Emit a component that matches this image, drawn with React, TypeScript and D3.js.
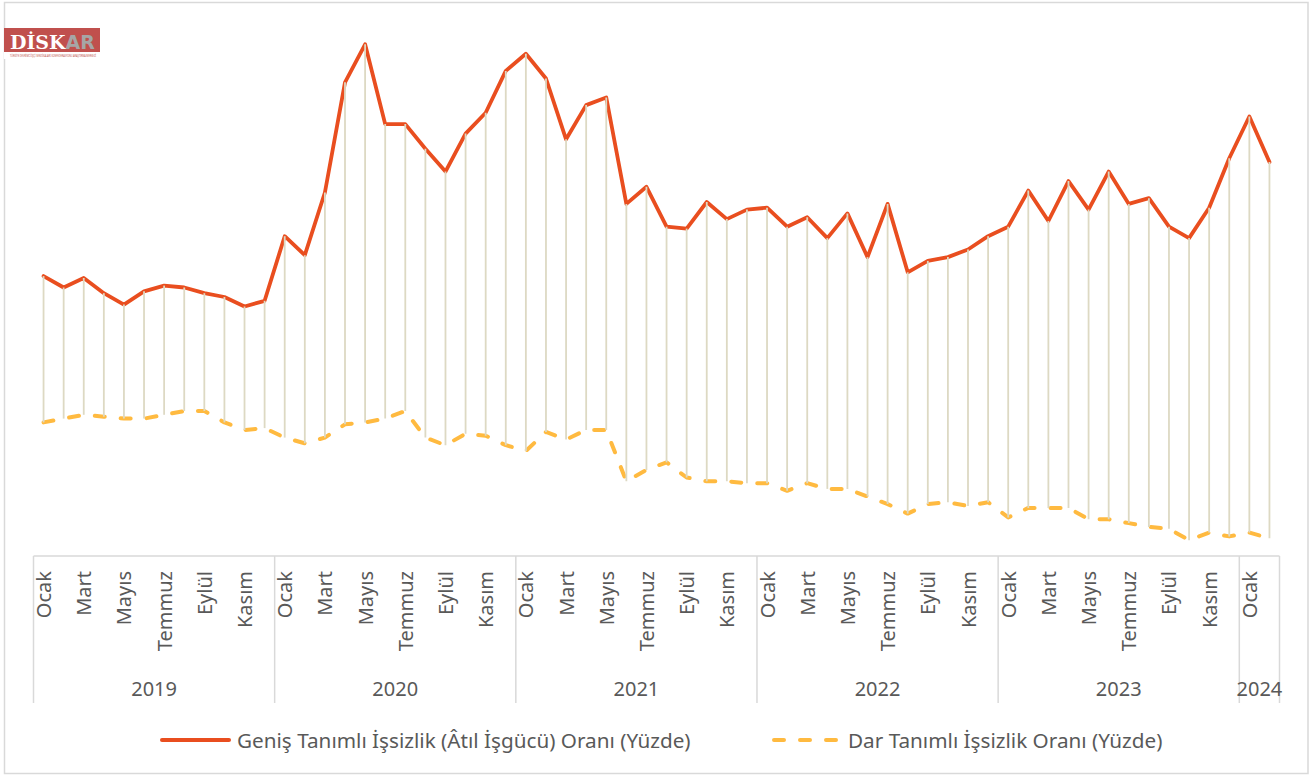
import React from "react";
import * as d3 from "d3";

const years = ["2019", "2020", "2021", "2022", "2023", "2024"];
const monthNames = ["Ocak", "Şubat", "Mart", "Nisan", "Mayıs", "Haziran", "Temmuz", "Ağustos", "Eylül", "Ekim", "Kasım", "Aralık"];
const monthsInYear = [12, 12, 12, 12, 12, 2];

// Geniş Tanımlı İşsizlik (Âtıl İşgücü) Oranı (Yüzde)
const wide = [
  22.5, 21.9, 22.4, 21.6, 21.0, 21.7, 22.0, 21.9, 21.6, 21.4, 20.9, 21.2,
  24.6, 23.6, 26.9, 32.7, 34.7, 30.5, 30.5, 29.2, 28.0, 30.0, 31.1, 33.3,
  34.2, 32.9, 29.7, 31.5, 31.9, 26.3, 27.2, 25.1, 25.0, 26.4, 25.5, 26.0,
  26.1, 25.1, 25.6, 24.5, 25.8, 23.5, 26.3, 22.7, 23.3, 23.5, 23.9, 24.6,
  25.1, 27.0, 25.4, 27.5, 26.0, 28.0, 26.3, 26.6, 25.1, 24.5, 26.1, 28.7,
  30.9, 28.5,
];

// Dar Tanımlı İşsizlik Oranı (Yüzde)
const narrow = [
  14.8, 15.0, 15.2, 15.1, 15.0, 15.0, 15.2, 15.4, 15.4, 14.8, 14.4, 14.5,
  14.0, 13.7, 14.0, 14.7, 14.8, 15.0, 15.4, 14.0, 13.6, 14.2, 14.1, 13.6,
  13.3, 14.3, 13.9, 14.4, 14.4, 11.7, 12.3, 12.7, 11.9, 11.7, 11.7, 11.6,
  11.6, 11.2, 11.6, 11.3, 11.3, 10.9, 10.5, 10.0, 10.5, 10.6, 10.4, 10.6,
  9.8, 10.3, 10.3, 10.3, 9.7, 9.7, 9.5, 9.3, 9.2, 8.6, 9.0, 8.8,
  9.0, 8.7,
];

const seriesNames = [
  "Geniş Tanımlı İşsizlik (Âtıl İşgücü) Oranı (Yüzde)",
  "Dar Tanımlı İşsizlik Oranı (Yüzde)",
];

const W = 1316;
const H = 775;
const FONT = "'Noto Sans', 'Open Sans', sans-serif";
const TXT = "#595959";
const GRID = "#D9D9D9";
const WIDE_C = "#E94E1F";
const NARROW_C = "#FFBA40";
const DROP_C = "#DDD9C3";

type Cat = { key: string; year: string; month: string; mi: number };

const categories: Cat[] = years.flatMap((y, yi) =>
  d3.range(monthsInYear[yi]).map((m) => ({ key: `${y}-${m}`, year: y, month: monthNames[m], mi: m }))
);

export default function App() {
  const x = d3.scaleBand<string>().domain(categories.map((c) => c.key)).range([33.5, 1279.5]).padding(0);
  const y = d3.scaleLinear().domain([5, 35]).range([608.6, 38.6]);
  const cx = (i: number) => (x(categories[i].key) as number) + x.bandwidth() / 2;

  const line = d3
    .line<number>()
    .x((_, i) => cx(i))
    .y((d) => y(d));

  const axisTop = 556;
  const axisBottom = 703;

  let acc = 0;
  const groups = years.map((yr, yi) => {
    const start = acc;
    acc += monthsInYear[yi];
    return { yr, start, end: acc };
  });
  const edge = (i: number) =>
    i < categories.length ? (x(categories[i].key) as number) : (x(categories[categories.length - 1].key) as number) + x.bandwidth();

  return (
    <svg
      width={W}
      height={H}
      style={{ position: "absolute", left: 0, top: 0, background: "#fff" }}
      fontFamily={FONT}
    >
      <rect x={0} y={0} width={W} height={H} fill="#fff" />
      <rect x={4.5} y={2.5} width={1303.5} height={771} fill="none" stroke={GRID} strokeWidth={1.5} />

      {/* logo */}
      <g>
        <rect x={4} y={28} width={96} height={31} fill="#fff" />
        <rect x={4} y={28} width={96} height={24} fill="#C0504D" />
        <text x={10} y={48.5} fontFamily="'DejaVu Serif', serif" fontWeight="bold" fontSize={19} fill="#fff">
          DİSK
          <tspan fill="#A6A6A6" fontFamily="'DejaVu Sans', sans-serif">AR</tspan>
        </text>
        <text x={10} y={57} fontSize={2.6} fill="#C0504D" textLength={86} lengthAdjust="spacingAndGlyphs" fontFamily={FONT}>
          TÜRKİYE DEVRİMCİ İŞÇİ SENDİKALARI KONFEDERASYONU ARAŞTIRMA MERKEZİ
        </text>
      </g>

      {/* series lines */}
      <path d={line(narrow) || ""} fill="none" stroke={NARROW_C} strokeWidth={4} strokeDasharray="10 16" strokeLinecap="round" strokeLinejoin="round" />
      <path d={line(wide) || ""} fill="none" stroke={WIDE_C} strokeWidth={3.8} strokeLinejoin="round" strokeLinecap="round" />

      {/* high-low lines */}
      {wide.map((w, i) => (
        <line key={`hl${i}`} x1={cx(i)} x2={cx(i)} y1={y(w)} y2={y(narrow[i])} stroke={DROP_C} strokeWidth={1.8} />
      ))}

      {/* category axis */}
      <line x1={edge(0)} x2={edge(categories.length)} y1={axisTop} y2={axisTop} stroke={GRID} strokeWidth={1.5} />
      {groups.map((g) => (
        <line key={`sep${g.yr}`} x1={edge(g.start)} x2={edge(g.start)} y1={axisTop} y2={axisBottom} stroke={GRID} strokeWidth={1.5} />
      ))}
      <line x1={edge(categories.length)} x2={edge(categories.length)} y1={axisTop} y2={axisBottom} stroke={GRID} strokeWidth={1.5} />

      {categories.map((c, i) =>
        i % 2 === 0 ? (
          <text
            key={`m${i}`}
            transform={`translate(${cx(i)},${571}) rotate(-90)`}
            textAnchor="end"
            dominantBaseline="central"
            fontSize={20}
            fill={TXT}
          >
            {c.month}
          </text>
        ) : null
      )}

      {groups.map((g) => (
        <text
          key={`y${g.yr}`}
          x={(edge(g.start) + edge(g.end)) / 2}
          y={688}
          textAnchor="middle"
          dominantBaseline="central"
          fontSize={20}
          fill={TXT}
        >
          {g.yr}
        </text>
      ))}

      {/* legend */}
      <line x1={162} x2={229} y1={740} y2={740} stroke={WIDE_C} strokeWidth={4} strokeLinecap="round" />
      <text x={237} y={740} dominantBaseline="central" fontSize={20.7} fill={TXT}>
        {seriesNames[0]}
      </text>
      <line x1={774} x2={840} y1={740} y2={740} stroke={NARROW_C} strokeWidth={4} strokeDasharray="10 16" strokeLinecap="round" />
      <text x={848} y={740} dominantBaseline="central" fontSize={20.7} fill={TXT}>
        {seriesNames[1]}
      </text>
    </svg>
  );
}
